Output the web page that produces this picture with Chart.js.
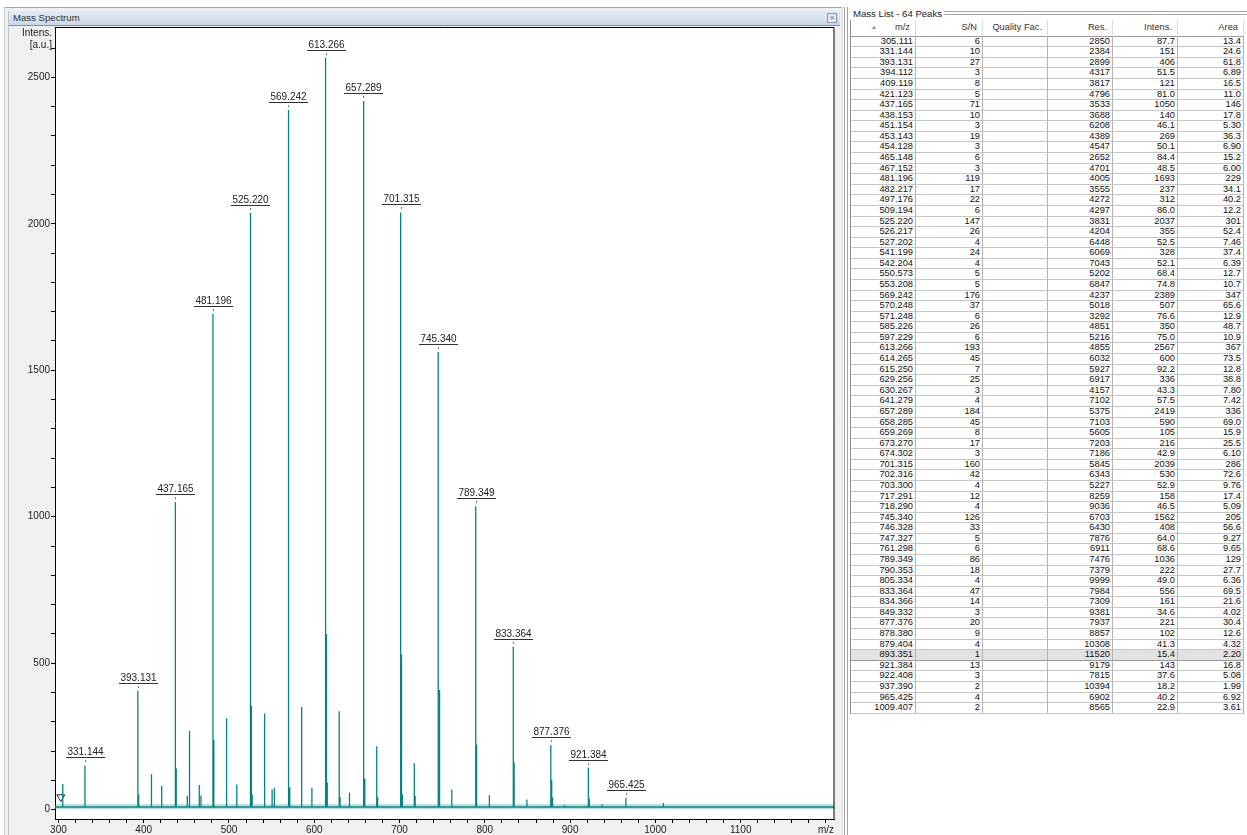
<!DOCTYPE html>
<html>
<head>
<meta charset="utf-8">
<title>Mass Spectrum</title>
<script src="https://cdn.jsdelivr.net/npm/chart.js@4.4.1/dist/chart.umd.min.js"></script>
<style>
    body { margin: 0; width: 1247px; height: 835px; overflow: hidden; background: #fff; position: relative; font-family: "Liberation Sans", Arial, sans-serif; color: #1e1e1e; }
    .abs { position: absolute; }
    #leftFrame { left: 4px; top: 7px; width: 838px; height: 828px; background: #f0f0f0; border-left: 1px solid #c8d1db; border-top: 1px solid #a8a8a8; box-sizing: border-box; }
    #leftInner { left: 8px; top: 11px; width: 1px; height: 824px; background: #c4c4c4; }
    #titleBar { left: 9px; top: 11px; width: 831px; height: 14px; background: linear-gradient(#e2eaf4, #c9d8e8); border-bottom: 1px solid #8e8e8e; z-index: 3; }
    #titleBar span { position: absolute; left: 4px; top: 1px; font-size: 9.6px; color: #333; }
    #closeBtn { right: 3px; top: 2px; width: 8px; height: 8px; border: 1px solid #8a9bb1; background: #dfe7f0; font-size: 8px; line-height: 7px; text-align: center; color: #55667a; }
    #specCanvas { left: 9px; top: 12px; z-index: 1; }
    .axisHead { right: 1195px; font-size: 10px; color: #222; z-index: 2; text-align: right; }
    .vline { top: 7px; width: 1px; height: 828px; }
    #listHead { left: 853px; top: 8px; font-size: 9.6px; color: #222; background: #fff; padding-right: 2px; z-index: 2; }
    #listLines { left: 930px; top: 11px; width: 317px; height: 2px; border-top: 1px solid #aaa; border-bottom: 1px solid #aaa; }
    #massTable { left: 850px; top: 20px; display: grid; grid-template-columns: 65px 67px 65px 65px 65px 66px; grid-template-rows: 16.7px; grid-auto-rows: 10.58px; border-left: 1px solid #8c8c8c; }
    #massTable div { box-sizing: border-box; border-right: 1px solid #b4b4b4; border-bottom: 1px solid #c6c6c6; font-size: 9.3px; line-height: 9.5px; text-align: right; padding-right: 2px; white-space: nowrap; overflow: hidden; color: #111; }
    #massTable div.hd { border-bottom: 1px solid #9c9c9c; border-right: 1px solid #dadada; line-height: 15px; padding-right: 5px; color: #333; }
    #massTable div.sel { background: #e2e2e2; border-bottom-color: #9a9a9a; }
    .arrow { position: absolute; left: 20px; top: 0; font-size: 6px; color: #888; }
</style>
</head>
<body>
<div id="leftFrame" class="abs"></div>
<div id="leftInner" class="abs"></div>
<div id="titleBar" class="abs"><span>Mass Spectrum</span><div id="closeBtn" class="abs">×</div></div>
<canvas id="specCanvas" class="abs" width="831" height="823"></canvas>
<div class="abs axisHead" style="top:27px">Intens.</div>
<div class="abs axisHead" style="top:39px">[a.u.]</div>

<div class="abs vline" style="left:842px;background:#dcdcdc"></div>
<div class="abs vline" style="left:844px;background:#a4a4a4"></div>
<div class="abs vline" style="left:847px;background:#a4a4a4"></div>

<div id="listLines" class="abs"></div>
<div id="listHead" class="abs">Mass List - 64 Peaks</div>
<div id="massTable" class="abs"></div>

<script>
// peak list (as reported in the mass list panel)
const mzList = [305.111, 331.144, 393.131, 394.112, 409.119, 421.123, 437.165, 438.153, 451.154, 453.143,
    454.128, 465.148, 467.152, 481.196, 482.217, 497.176, 509.194, 525.220, 526.217, 527.202,
    541.199, 542.204, 550.573, 553.208, 569.242, 570.248, 571.248, 585.226, 597.229, 613.266,
    614.265, 615.250, 629.256, 630.267, 641.279, 657.289, 658.285, 659.269, 673.270, 674.302,
    701.315, 702.316, 703.300, 717.291, 718.290, 745.340, 746.328, 747.327, 761.298, 789.349,
    790.353, 805.334, 833.364, 834.366, 849.332, 877.376, 878.380, 879.404, 893.351, 921.384,
    922.408, 937.390, 965.425, 1009.407];
const snList = [6, 10, 27, 3, 8, 5, 71, 10, 3, 19,
    3, 6, 3, 119, 17, 22, 6, 147, 26, 4,
    24, 4, 5, 5, 176, 37, 6, 26, 6, 193,
    45, 7, 25, 3, 4, 184, 45, 8, 17, 3,
    160, 42, 4, 12, 4, 126, 33, 5, 6, 86,
    18, 4, 47, 14, 3, 20, 9, 4, 1, 13,
    3, 2, 4, 2];
const resList = [2850, 2384, 2899, 4317, 3817, 4796, 3533, 3688, 6208, 4389,
    4547, 2652, 4701, 4005, 3555, 4272, 4297, 3831, 4204, 6448,
    6069, 7043, 5202, 6847, 4237, 5018, 3292, 4851, 5216, 4855,
    6032, 5927, 6917, 4157, 7102, 5375, 7103, 5605, 7203, 7186,
    5845, 6343, 5227, 8259, 9036, 6703, 6430, 7876, 6911, 7476,
    7379, 9999, 7984, 7309, 9381, 7937, 8857, 10308, 11520, 9179,
    7815, 10394, 6902, 8565];
const intensList = [87.7, 151, 406, 51.5, 121, 81.0, 1050, 140, 46.1, 269,
    50.1, 84.4, 48.5, 1693, 237, 312, 86.0, 2037, 355, 52.5,
    328, 52.1, 68.4, 74.8, 2389, 507, 76.6, 350, 75.0, 2567,
    600, 92.2, 336, 43.3, 57.5, 2419, 590, 105, 216, 42.9,
    2039, 530, 52.9, 158, 46.5, 1562, 408, 64.0, 68.6, 1036,
    222, 49.0, 556, 161, 34.6, 221, 102, 41.3, 15.4, 143,
    37.6, 18.2, 40.2, 22.9];
const areaList = [13.4, 24.6, 61.8, 6.89, 16.5, 11.0, 146, 17.8, 5.30, 36.3,
    6.90, 15.2, 6.00, 229, 34.1, 40.2, 12.2, 301, 52.4, 7.46,
    37.4, 6.39, 12.7, 10.7, 347, 65.6, 12.9, 48.7, 10.9, 367,
    73.5, 12.8, 38.8, 7.80, 7.42, 336, 69.0, 15.9, 25.5, 6.10,
    286, 72.6, 9.76, 17.4, 5.09, 205, 56.6, 9.27, 9.65, 129,
    27.7, 6.36, 69.5, 21.6, 4.02, 30.4, 12.6, 4.32, 2.20, 16.8,
    5.08, 1.99, 6.92, 3.61];

const labeledPeaks = [331.144, 393.131, 437.165, 481.196, 525.220, 569.242, 613.266, 657.289,
    701.315, 745.340, 789.349, 833.364, 877.376, 921.384, 965.425];
const selectedPeak = 893.351;
const tableHeaders = ["m/z", "S/N", "Quality Fac.", "Res.", "Intens.", "Area"];

// axis ticks: minor step, labelled step, last tick
const mzTicks = [300, 20, 100, 1200];
const intensTicks = [0, 100, 500, 2600];

// baseline noise level and the little start marker
const baseLevel = 9;
const noiseBand = [1, 19];
const startMarker = { x: 302.8, y: 43 };

const mzRange = [296, 1210];
const intensRange = [-32, 2672];
const tickFont = { family: '"Liberation Sans", Arial, sans-serif', size: 10 };

function fmt3(v) {
    return v >= 100 ? String(Math.round(v)) : v.toPrecision(3);
}

function tickList(spec) {
    const out = [];
    for (let v = spec[0]; v <= spec[3]; v += spec[1]) out.push({ value: v });
    return out;
}

function buildTable() {
    const table = document.getElementById("massTable");
    tableHeaders.forEach((h, i) => {
        const cell = document.createElement("div");
        cell.className = "hd";
        cell.style.position = "relative";
        cell.textContent = h;
        if (i === 0) {
            const arrow = document.createElement("span");
            arrow.className = "arrow";
            arrow.textContent = "▲";
            cell.appendChild(arrow);
        }
        table.appendChild(cell);
    });
    mzList.forEach((mz, i) => {
        const values = [mz.toFixed(3), String(snList[i]), "", String(resList[i]), fmt3(intensList[i]), fmt3(areaList[i])];
        values.forEach(v => {
            const cell = document.createElement("div");
            cell.textContent = v;
            if (mz === selectedPeak) cell.className = "sel";
            table.appendChild(cell);
        });
    });
}

function buildSpectrum() {
    const pts = [{ x: mzRange[0], y: baseLevel }];
    mzList.forEach((mz, i) => {
        pts.push({ x: mz, y: baseLevel });
        pts.push({ x: mz, y: intensList[i] });
        pts.push({ x: mz, y: baseLevel });
    });
    pts.push({ x: mzRange[1], y: baseLevel });
    return pts;
}

const frameAndLabels = {
    id: "frameAndLabels",
    beforeDraw(chart) {
        const { ctx, chartArea: a } = chart;
        ctx.save();
        ctx.fillStyle = "#fff";
        ctx.fillRect(a.left, a.top, a.right - a.left, a.bottom - a.top);
        ctx.restore();
    },
    afterDatasetsDraw(chart) {
        const { ctx, chartArea: a } = chart;
        const xs = chart.scales.x;
        const ys = chart.scales.y;
        ctx.save();
        ctx.font = '10px "Liberation Sans", Arial, sans-serif';
        ctx.textAlign = "center";
        ctx.textBaseline = "alphabetic";
        labeledPeaks.forEach(mz => {
            const i = mzList.indexOf(mz);
            const px = Math.round(xs.getPixelForValue(mz)) + 0.5;
            const py = Math.round(ys.getPixelForValue(intensList[i]));
            const label = mz.toFixed(3);
            const w = ctx.measureText(label).width;
            ctx.fillStyle = "#222";
            ctx.fillText(label, px, py - 10);
            ctx.strokeStyle = "#333";
            ctx.lineWidth = 1;
            ctx.beginPath();
            ctx.moveTo(px - w / 2 - 1.5, py - 7.5);
            ctx.lineTo(px + w / 2 + 1.5, py - 7.5);
            ctx.stroke();
            ctx.strokeStyle = "#777";
            ctx.beginPath();
            ctx.moveTo(px, py - 5);
            ctx.lineTo(px, py - 3);
            ctx.stroke();
        });
        ctx.strokeStyle = "#000";
        ctx.lineWidth = 1;
        ctx.beginPath();
        ctx.moveTo(a.left, a.top + 0.5);
        ctx.lineTo(a.right - 0.5, a.top + 0.5);
        ctx.lineTo(a.right - 0.5, a.bottom);
        ctx.stroke();
        ctx.restore();
    }
};

document.addEventListener("DOMContentLoaded", function() {
    buildTable();

    const ctx = document.getElementById("specCanvas").getContext("2d");
    new Chart(ctx, {
        type: "line",
        data: {
            datasets: [
                {
                    data: [{ x: mzRange[0], y: noiseBand[1] }, { x: mzRange[1], y: noiseBand[1] }],
                    borderWidth: 0,
                    pointRadius: 0,
                    fill: { value: noiseBand[0] },
                    backgroundColor: "rgba(20, 140, 140, 0.28)"
                },
                {
                    data: buildSpectrum(),
                    borderColor: "#078282",
                    borderWidth: 1.3,
                    pointRadius: 0,
                    tension: 0,
                    fill: false
                },
                {
                    data: [startMarker],
                    showLine: false,
                    pointStyle: "triangle",
                    rotation: 180,
                    pointRadius: 4.5,
                    pointBackgroundColor: "#fff",
                    pointBorderColor: "#222",
                    pointBorderWidth: 1
                }
            ]
        },
        options: {
            responsive: false,
            animation: false,
            layout: { padding: { top: 15, right: 1, left: 0, bottom: 0 } },
            plugins: { legend: { display: false }, tooltip: { enabled: false } },
            scales: {
                x: {
                    type: "linear",
                    min: mzRange[0],
                    max: mzRange[1],
                    afterBuildTicks(scale) { scale.ticks = tickList(mzTicks); },
                    afterFit(scale) { scale.height = 16; },
                    border: { color: "#000", width: 1 },
                    grid: { drawOnChartArea: false, tickLength: 4, tickColor: "#000" },
                    ticks: {
                        autoSkip: false,
                        maxRotation: 0,
                        padding: 1,
                        color: "#222",
                        font: tickFont,
                        callback: v => (v === mzTicks[3] ? "m/z" : (v % mzTicks[2] === 0 ? String(v) : ""))
                    }
                },
                y: {
                    min: intensRange[0],
                    max: intensRange[1],
                    afterBuildTicks(scale) { scale.ticks = tickList(intensTicks); },
                    afterFit(scale) { scale.width = 46; },
                    border: { color: "#000", width: 1 },
                    grid: { drawOnChartArea: false, tickLength: 4, tickColor: "#000" },
                    ticks: {
                        autoSkip: false,
                        padding: 1,
                        color: "#222",
                        font: tickFont,
                        callback: v => (v % intensTicks[2] === 0 ? String(v) : "")
                    }
                }
            }
        },
        plugins: [frameAndLabels]
    });
});
</script>
</body>
</html>
